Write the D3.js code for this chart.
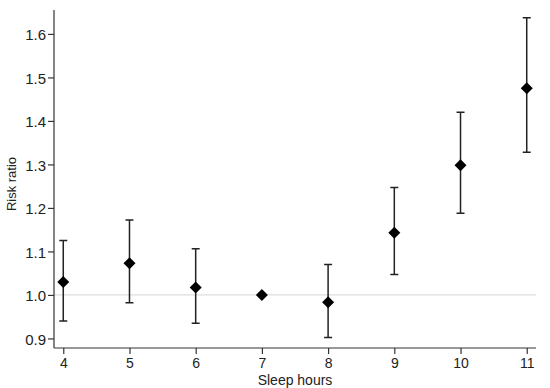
<!DOCTYPE html>
<html>
<head>
<meta charset="utf-8">
<script src="https://cdnjs.cloudflare.com/ajax/libs/d3/7.8.5/d3.min.js"></script>
<style>
  body { margin: 0; background: #fff; }
  svg text { font-family: "Liberation Sans", Arial, sans-serif; }
</style>
</head>
<body>
<div id="chart"></div>
<script>
// data
var hours = [4, 5, 6, 7, 8, 9, 10, 11]
var rr = [1.03, 1.073, 1.017, 1.0, 0.983, 1.143, 1.298, 1.475]
var lower = [0.94, 0.982, 0.935, null, 0.902, 1.047, 1.188, 1.328]
var upper = [1.125, 1.172, 1.106, null, 1.07, 1.247, 1.42, 1.637]
var yTicks = [0.9, 1.0, 1.1, 1.2, 1.3, 1.4, 1.5, 1.6]

var width = 550, height = 388
var margin = { left: 54, right: 14, top: 10, bottom: 40 }

var svg = d3.select("#chart")
  .append("svg")
  .attr("width", width)
  .attr("height", height)

var x = d3.scaleLinear()
  .domain([3.86, 11.14])
  .range([margin.left, width - margin.right])

var y = d3.scaleLinear()
  .domain([0.878, 1.655])
  .range([height - margin.bottom, margin.top])

var rows = hours.map((h, i) => ({ h: h, rr: rr[i], lo: lower[i], hi: upper[i] }))

// reference line at 1
svg.append("line")
  .attr("x1", x.range()[0])
  .attr("x2", x.range()[1])
  .attr("y1", y(1))
  .attr("y2", y(1))
  .style("stroke", "#d4d4d4")
  .style("stroke-width", 1)

// axes
var xAxis = d3.axisBottom(x).tickValues(hours).tickSize(6).tickPadding(4).tickFormat(d3.format("d"))
var yAxis = d3.axisLeft(y).tickValues(yTicks).tickSize(6).tickPadding(2).tickFormat(d3.format(".1f"))

svg.append("g")
  .attr("transform", `translate(0,${height - margin.bottom})`)
  .call(xAxis)
  .call(g => g.select(".domain").attr("d", `M${x.range()[0]},0H${x.range()[1]}`))
  .call(g => g.selectAll("line, path").style("stroke", "#333").style("stroke-width", 1.2))
  .selectAll("text")
  .style("font-size", "14px")
  .style("fill", "#222")

svg.append("g")
  .attr("transform", `translate(${margin.left},0)`)
  .call(yAxis)
  .call(g => g.select(".domain").attr("d", `M0,${y.range()[0]}V${y.range()[1]}`))
  .call(g => g.selectAll("line, path").style("stroke", "#333").style("stroke-width", 1.2))
  .selectAll("text")
  .attr("dy", "0.4em")
  .style("font-size", "15px")
  .style("fill", "#222")

// axis titles
svg.append("text")
  .attr("x", (x.range()[0] + x.range()[1]) / 2)
  .attr("y", 385)
  .attr("text-anchor", "middle")
  .style("font-size", "14px")
  .style("fill", "#222")
  .text("Sleep hours")

svg.append("text")
  .attr("transform", "translate(16,184) rotate(-90)")
  .attr("text-anchor", "middle")
  .style("font-size", "13px")
  .style("fill", "#222")
  .text("Risk ratio")

// error bars
var ci = rows.filter(d => d.lo != null)
var capW = 4

svg.selectAll(".ci")
  .data(ci)
  .enter()
  .append("path")
  .attr("class", "ci")
  .attr("d", d => `M${x(d.h) - capW},${y(d.hi)}H${x(d.h) + capW}M${x(d.h)},${y(d.hi)}V${y(d.lo)}M${x(d.h) - capW},${y(d.lo)}H${x(d.h) + capW}`)
  .style("fill", "none")
  .style("stroke", "#222")
  .style("stroke-width", 1.5)

// point estimates
svg.selectAll(".pt")
  .data(rows)
  .enter()
  .append("path")
  .attr("class", "pt")
  .attr("transform", d => `translate(${x(d.h)},${y(d.rr)})`)
  .attr("d", "M0,-6L6,0L0,6L-6,0Z")
  .style("fill", "#000")
</script>
</body>
</html>
